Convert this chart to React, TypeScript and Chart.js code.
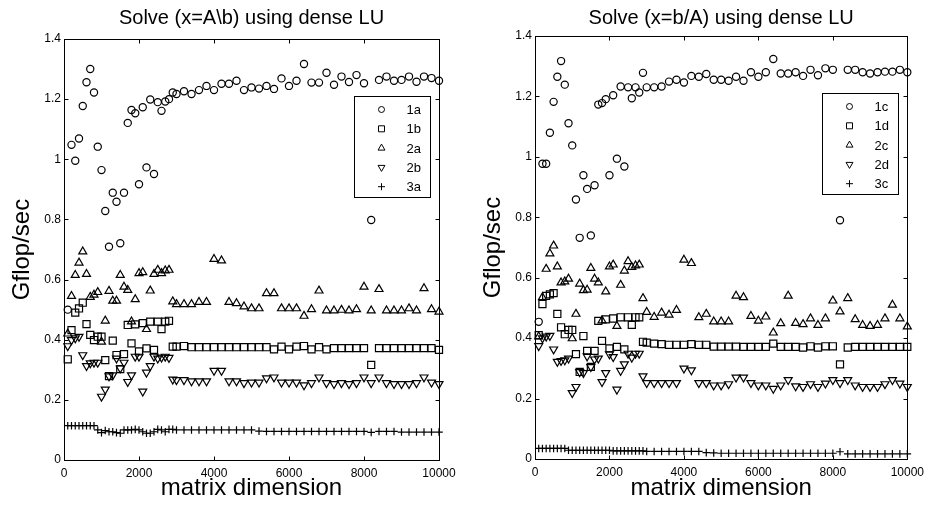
import React, { useEffect, useRef } from 'react';
import { Chart, registerables } from 'chart.js';

Chart.register(...registerables);

// ---------- data ----------
const N = [100, 200, 300, 400, 500, 600, 700, 800, 900, 1000, 1100, 1200, 1300, 1400, 1500, 1600, 1700, 1800, 1900, 2000, 2100, 2200, 2300, 2400, 2500, 2600, 2700, 2800, 2900, 3000, 3200, 3400, 3600, 3800, 4000, 4200, 4400, 4600, 4800, 5000, 5200, 5400, 5600, 5800, 6000, 6200, 6400, 6600, 6800, 7000, 7200, 7400, 7600, 7800, 8000, 8192, 8400, 8600, 8800, 9000, 9200, 9400, 9600, 9800, 10000];

const L_1A = [0.50, 1.048, 0.995, 1.069, 1.177, 1.256, 1.300, 1.222, 1.042, 0.964,
  0.828, 0.709, 0.889, 0.859, 0.721, 0.889, 1.121, 1.164, 1.153, 0.917,
  1.173, 0.973, 1.199, 0.951, 1.190, 1.161, 1.192, 1.200, 1.222, 1.217,
  1.226, 1.217, 1.230, 1.244, 1.230, 1.251, 1.251, 1.261, 1.230,
  1.239, 1.235, 1.244, 1.234, 1.269, 1.244, 1.261, 1.317, 1.255,
  1.255, 1.288, 1.248, 1.275, 1.257, 1.280, 1.253,
  0.798,
  1.264, 1.275, 1.261, 1.264, 1.275, 1.258, 1.275, 1.270, 1.261];
const L_1B = [0.335, 0.432, 0.490, 0.504, 0.523, 0.452, 0.416, 0.399, 0.410, 0.410,
  0.332, 0.279, 0.397, 0.349, 0.302, 0.352, 0.449, 0.388, 0.451, 0.361,
  0.455, 0.371, 0.460, 0.366, 0.460, 0.435, 0.460, 0.463, 0.377, 0.377,
  0.379, 0.375, 0.375, 0.375, 0.375, 0.375, 0.375, 0.375, 0.375,
  0.375, 0.375, 0.375, 0.368, 0.377, 0.368, 0.377, 0.379, 0.368,
  0.375, 0.368, 0.372, 0.372, 0.372, 0.372, 0.372,
  0.316,
  0.372, 0.372, 0.372, 0.372, 0.372, 0.372, 0.372, 0.372, 0.366];
const L_2A = [0.420, 0.545, 0.615, 0.656, 0.693, 0.618, 0.542, 0.549, 0.558, 0.393,
  0.463, 0.562, 0.529, 0.529, 0.615, 0.576, 0.565, 0.460, 0.534, 0.621,
  0.624, 0.435, 0.563, 0.618, 0.632, 0.621, 0.630, 0.632, 0.527, 0.518,
  0.518, 0.518, 0.525, 0.525, 0.668, 0.663, 0.525, 0.521, 0.510,
  0.504, 0.504, 0.554, 0.554, 0.504, 0.504, 0.504, 0.479, 0.501,
  0.563, 0.497, 0.497, 0.499, 0.497, 0.501, 0.576,
  0.497,
  0.568, 0.497, 0.497, 0.497, 0.504, 0.497, 0.571, 0.501, 0.493];
const L_2B = [0.379, 0.399, 0.405, 0.410, 0.349, 0.313, 0.322, 0.324, 0.324, 0.211,
  0.235, 0.279, 0.282, 0.338, 0.305, 0.324, 0.260, 0.282, 0.344, 0.344,
  0.228, 0.291, 0.313, 0.344, 0.338, 0.341, 0.344, 0.340, 0.268, 0.266,
  0.266, 0.262, 0.262, 0.262, 0.297, 0.297, 0.262, 0.262, 0.256,
  0.258, 0.258, 0.272, 0.275, 0.258, 0.258, 0.258, 0.249, 0.256,
  0.275, 0.256, 0.253, 0.256, 0.253, 0.256, 0.275,
  0.256,
  0.275, 0.256, 0.253, 0.253, 0.253, 0.256, 0.275, 0.258, 0.253];
const L_3A = [0.114, 0.114, 0.114, 0.114, 0.114, 0.114, 0.114, 0.114, 0.100, 0.091,
  0.098, 0.094, 0.094, 0.091, 0.089, 0.100, 0.100, 0.100, 0.102, 0.100,
  0.094, 0.089, 0.089, 0.094, 0.102, 0.100, 0.094, 0.102, 0.102, 0.100,
  0.100, 0.100, 0.100, 0.100, 0.100, 0.100, 0.100, 0.100, 0.100,
  0.100, 0.096, 0.095, 0.095, 0.095, 0.095, 0.095, 0.095, 0.095,
  0.095, 0.095, 0.095, 0.095, 0.095, 0.095, 0.095,
  0.092,
  0.095, 0.095, 0.095, 0.093, 0.093, 0.093, 0.093, 0.093, 0.093];

const R_1C = [0.454, 0.977, 0.977, 1.080, 1.182, 1.265, 1.317, 1.239, 1.111, 1.038,
  0.859, 0.732, 0.939, 0.894, 0.740, 0.906, 1.173, 1.178, 1.191, 0.939,
  1.204, 0.994, 1.233, 0.968, 1.230, 1.194, 1.230, 1.213, 1.278, 1.230,
  1.230, 1.233, 1.249, 1.255, 1.246, 1.268, 1.265, 1.274, 1.255,
  1.255, 1.252, 1.265, 1.252, 1.280, 1.265, 1.280, 1.324, 1.276,
  1.276, 1.280, 1.268, 1.288, 1.270, 1.293, 1.288,
  0.790,
  1.288, 1.288, 1.280, 1.276, 1.280, 1.282, 1.282, 1.288, 1.280];
const R_1D = [0.410, 0.513, 0.540, 0.545, 0.549, 0.480, 0.436, 0.413, 0.427, 0.427,
  0.347, 0.288, 0.407, 0.358, 0.305, 0.358, 0.457, 0.391, 0.462, 0.366,
  0.465, 0.371, 0.469, 0.363, 0.469, 0.444, 0.469, 0.469, 0.388, 0.385,
  0.382, 0.380, 0.378, 0.378, 0.378, 0.380, 0.378, 0.378, 0.372,
  0.372, 0.372, 0.372, 0.371, 0.371, 0.371, 0.371, 0.382, 0.371,
  0.371, 0.371, 0.369, 0.373, 0.369, 0.373, 0.373,
  0.313,
  0.369, 0.371, 0.371, 0.371, 0.371, 0.371, 0.371, 0.371, 0.371];
const R_2C = [0.405, 0.535, 0.629, 0.680, 0.706, 0.637, 0.584, 0.587, 0.596, 0.399,
  0.480, 0.580, 0.558, 0.560, 0.632, 0.596, 0.584, 0.458, 0.554, 0.637,
  0.643, 0.440, 0.576, 0.623, 0.654, 0.635, 0.640, 0.643, 0.532, 0.486,
  0.470, 0.484, 0.477, 0.493, 0.659, 0.648, 0.469, 0.480, 0.455,
  0.455, 0.455, 0.540, 0.535, 0.473, 0.457, 0.471, 0.418, 0.449,
  0.540, 0.450, 0.446, 0.465, 0.443, 0.465, 0.524,
  0.488,
  0.532, 0.462, 0.443, 0.440, 0.443, 0.465, 0.510, 0.465, 0.438];
const R_2D = [0.374, 0.400, 0.406, 0.408, 0.363, 0.322, 0.325, 0.327, 0.333, 0.219,
  0.239, 0.288, 0.285, 0.340, 0.305, 0.330, 0.333, 0.255, 0.285, 0.347,
  0.338, 0.230, 0.292, 0.314, 0.349, 0.336, 0.349, 0.349, 0.274, 0.252,
  0.252, 0.252, 0.252, 0.252, 0.300, 0.294, 0.252, 0.252, 0.244,
  0.244, 0.248, 0.270, 0.270, 0.252, 0.244, 0.244, 0.233, 0.244,
  0.262, 0.241, 0.239, 0.248, 0.239, 0.250, 0.262,
  0.252,
  0.262, 0.244, 0.239, 0.239, 0.239, 0.248, 0.262, 0.250, 0.239];
const R_3C = [0.035, 0.035, 0.035, 0.035, 0.035, 0.035, 0.035, 0.035, 0.029, 0.029,
  0.029, 0.029, 0.029, 0.029, 0.029, 0.029, 0.029, 0.029, 0.029, 0.029,
  0.027, 0.027, 0.027, 0.027, 0.027, 0.027, 0.027, 0.027, 0.027, 0.025,
  0.025, 0.025, 0.025, 0.025, 0.025, 0.025, 0.025, 0.021, 0.020,
  0.019, 0.019, 0.019, 0.019, 0.019, 0.019, 0.019, 0.019, 0.019,
  0.019, 0.019, 0.019, 0.019, 0.019, 0.019, 0.019,
  0.024,
  0.017, 0.017, 0.017, 0.017, 0.017, 0.017, 0.017, 0.017, 0.017];

const LEFT_LABELS = ['1a', '1b', '2a', '2b', '3a'];
const RIGHT_LABELS = ['1c', '1d', '2c', '2d', '3c'];
const LEFT_TITLE = 'Solve (x=A\\b) using dense LU';
const RIGHT_TITLE = 'Solve (x=b/A) using dense LU';
const X_TITLE = 'matrix dimension';
const Y_TITLE = 'Gflop/sec';
const X_TICKS = [0, 2000, 4000, 6000, 8000, 10000];
const Y_TICKS = [0, 0.2, 0.4, 0.6, 0.8, 1, 1.2, 1.4];

// ---------- styling ----------
const FONT = "'Liberation Sans', Arial, Helvetica, sans-serif";
const MARKERS = [
  { style: 'circle', radius: 3.6, rotation: 0 },
  { style: 'rect', radius: 5, rotation: 0 },
  { style: 'triangle', radius: 4.6, rotation: 0 },
  { style: 'triangle', radius: 4.6, rotation: 180 },
  { style: 'cross', radius: 3.8, rotation: 0 },
];

function legendMarker(ctx: CanvasRenderingContext2D, style: string, rot: number, x: number, y: number) {
  ctx.beginPath();
  if (style === 'circle') {
    ctx.arc(x, y, 3, 0, Math.PI * 2);
  } else if (style === 'rect') {
    ctx.rect(x - 3, y - 3, 6, 6);
  } else if (style === 'triangle') {
    const r = 4;
    const s = rot === 180 ? -1 : 1;
    ctx.moveTo(x, y - s * r);
    ctx.lineTo(x + r * 0.866, y + s * r * 0.5);
    ctx.lineTo(x - r * 0.866, y + s * r * 0.5);
    ctx.closePath();
  } else {
    ctx.moveTo(x - 3.5, y);
    ctx.lineTo(x + 3.5, y);
    ctx.moveTo(x, y - 3.5);
    ctx.lineTo(x, y + 3.5);
  }
  ctx.stroke();
}

const framePlugin = {
  id: 'matlabFrame',
  afterDatasetsDraw(chart: any) {
    const { ctx, chartArea: a, scales } = chart;
    ctx.save();
    ctx.strokeStyle = '#000';
    ctx.lineWidth = 1;
    const L = Math.round(a.left) + 0.5;
    const R = Math.round(a.right) + 0.5;
    const T = Math.round(a.top) + 0.5;
    const B = Math.round(a.bottom) + 0.5;
    ctx.strokeRect(L, T, R - L, B - T);
    const TL = 4;
    ctx.beginPath();
    scales.x.ticks.forEach((t: any) => {
      const px = Math.round(scales.x.getPixelForValue(t.value)) + 0.5;
      ctx.moveTo(px, B); ctx.lineTo(px, B - TL);
      ctx.moveTo(px, T); ctx.lineTo(px, T + TL);
    });
    scales.y.ticks.forEach((t: any) => {
      const py = Math.round(scales.y.getPixelForValue(t.value)) + 0.5;
      ctx.moveTo(L, py); ctx.lineTo(L + TL, py);
      ctx.moveTo(R, py); ctx.lineTo(R - TL, py);
    });
    ctx.stroke();

    // legend box inside the axes (top right)
    const bw = 76, bh = 101;
    const bx = Math.round(a.right - 9 - bw) + 0.5;
    const by = Math.round(a.top + 57) + 0.5;
    ctx.fillStyle = '#fff';
    ctx.fillRect(bx, by, bw, bh);
    ctx.strokeRect(bx, by, bw, bh);
    ctx.font = `13px ${FONT}`;
    ctx.textBaseline = 'middle';
    ctx.textAlign = 'left';
    chart.data.datasets.forEach((ds: any, i: number) => {
      const cy = by + 13 + i * 19.3;
      ctx.strokeStyle = '#000';
      ctx.lineWidth = 1;
      legendMarker(ctx, ds.pointStyle, ds.pointRotation, bx + 27, cy);
      ctx.fillStyle = '#000';
      ctx.fillText(ds.label, bx + 52, cy + 1);
    });
    ctx.restore();
  },
};

type PlotSpec = {
  title: string;
  labels: string[];
  series: number[][];
  left: number;
  width: number;
  areaLeft: number;
  padRight: number;
  titlePadBottom: number;
  xAxisHeight: number;
  yTitlePad: number;
};

function Plot({ spec }: { spec: PlotSpec }) {
  const ref = useRef<HTMLCanvasElement>(null);
  useEffect(() => {
    const datasets = spec.series.map((vals, i) => ({
      label: spec.labels[i],
      data: N.map((x, j) => ({ x, y: vals[j] })),
      showLine: false,
      pointStyle: MARKERS[i].style,
      pointRotation: MARKERS[i].rotation,
      pointRadius: MARKERS[i].radius,
      pointHoverRadius: MARKERS[i].radius,
      pointBorderWidth: 1.2,
      borderWidth: 1.2,
      borderColor: '#000',
      pointBorderColor: '#000',
      backgroundColor: 'rgba(0,0,0,0)',
      pointBackgroundColor: 'rgba(0,0,0,0)',
      clip: false as any,
    }));
    const chart = new Chart(ref.current as HTMLCanvasElement, {
      type: 'scatter',
      data: { datasets: datasets as any },
      plugins: [framePlugin],
      options: {
        animation: false,
        responsive: false,
        events: [],
        layout: { padding: { left: 0, right: spec.padRight, top: 0, bottom: 0 } },
        plugins: {
          legend: { display: false },
          tooltip: { enabled: false },
          title: {
            display: true,
            text: spec.title,
            fullSize: false,
            color: '#000',
            font: { family: FONT, size: 20, weight: 'normal' },
            padding: { top: 6, bottom: spec.titlePadBottom },
          },
        },
        scales: {
          x: {
            type: 'linear',
            min: 0,
            max: 10000,
            afterBuildTicks: (s: any) => { s.ticks = X_TICKS.map((v) => ({ value: v })); },
            afterFit: (s: any) => { s.height = spec.xAxisHeight; },
            grid: { display: false, drawTicks: false },
            border: { display: false },
            ticks: {
              color: '#000',
              padding: 6,
              maxRotation: 0,
              autoSkip: false,
              font: { family: FONT, size: 12 },
              callback: (v: any) => String(v),
            },
            title: {
              display: true,
              text: X_TITLE,
              color: '#000',
              font: { family: FONT, size: 24 },
              padding: { top: 0, bottom: 5 },
            },
          },
          y: {
            type: 'linear',
            min: 0,
            max: 1.4,
            afterBuildTicks: (s: any) => { s.ticks = Y_TICKS.map((v) => ({ value: v })); },
            afterFit: (s: any) => { s.width = spec.areaLeft; },
            grid: { display: false, drawTicks: false },
            border: { display: false },
            ticks: {
              color: '#000',
              padding: 3,
              font: { family: FONT, size: 12 },
              callback: (v: any) => String(v),
            },
            title: {
              display: true,
              text: Y_TITLE,
              color: '#000',
              font: { family: FONT, size: 24 },
              padding: { top: spec.yTitlePad, bottom: 0 },
            },
          },
        },
      } as any,
    });
    return () => chart.destroy();
  }, []);
  return (
    <canvas
      ref={ref}
      width={spec.width}
      height={508}
      style={{ position: 'absolute', left: spec.left, top: 0, width: spec.width, height: 508 }}
    />
  );
}

const LEFT_SPEC: PlotSpec = {
  title: LEFT_TITLE,
  labels: LEFT_LABELS,
  series: [L_1A, L_1B, L_2A, L_2B, L_3A],
  left: 0,
  width: 465,
  areaLeft: 64,
  padRight: 26,
  titlePadBottom: 9,
  xAxisHeight: 48,
  yTitlePad: 8,
};

const RIGHT_SPEC: PlotSpec = {
  title: RIGHT_TITLE,
  labels: RIGHT_LABELS,
  series: [R_1C, R_1D, R_2C, R_2D, R_3C],
  left: 465,
  width: 465,
  areaLeft: 70,
  padRight: 20,
  titlePadBottom: 6,
  xAxisHeight: 49,
  yTitlePad: 14,
};

export default function App() {
  return (
    <div style={{ position: 'absolute', left: 0, top: 0, width: 930, height: 508, background: '#fff' }}>
      <Plot spec={LEFT_SPEC} />
      <Plot spec={RIGHT_SPEC} />
    </div>
  );
}
